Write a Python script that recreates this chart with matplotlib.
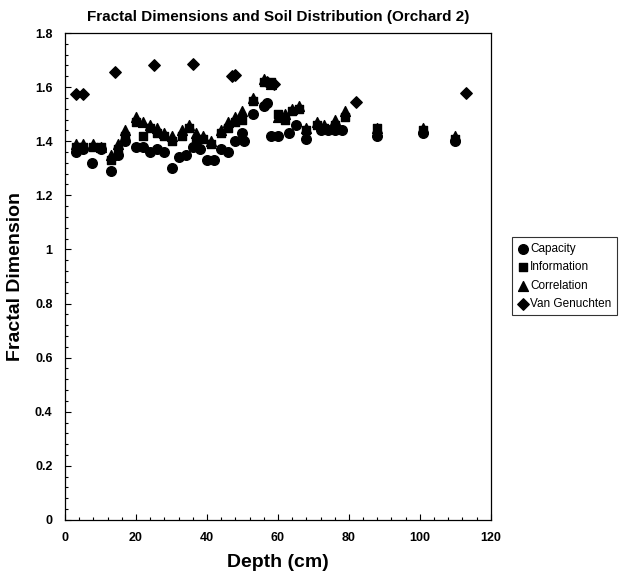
import matplotlib.pyplot as plt
from matplotlib.ticker import MultipleLocator

plt.rcParams['font.family'] = ['Liberation Sans', 'DejaVu Sans']

# data
cap_depth = [3, 5, 7.5, 10, 13, 15, 17, 20, 22, 24, 26, 28, 30, 32, 34, 36, 38, 40, 42, 44,
             46, 48, 50, 50.5, 53, 56, 57, 58, 60, 63, 65, 68, 72, 74, 76, 78, 88, 101, 110]
cap_val = [1.36, 1.37, 1.32, 1.37, 1.29, 1.35, 1.40, 1.38, 1.38, 1.36, 1.37, 1.36, 1.30, 1.34,
           1.35, 1.38, 1.37, 1.33, 1.33, 1.37, 1.36, 1.40, 1.43, 1.40, 1.50, 1.53, 1.54, 1.42,
           1.42, 1.43, 1.46, 1.41, 1.44, 1.44, 1.44, 1.44, 1.42, 1.43, 1.40]

inf_depth = [3, 5, 8, 10, 13, 15, 17, 20, 22, 24, 26, 28, 30, 33, 35, 37, 39, 41, 44, 46,
             48, 50, 53, 56, 58, 60, 62, 64, 66, 68, 71, 73, 76, 79, 88, 101, 110]
inf_val = [1.38, 1.38, 1.38, 1.38, 1.33, 1.37, 1.42, 1.47, 1.42, 1.45, 1.43, 1.42, 1.40, 1.42,
           1.45, 1.40, 1.41, 1.39, 1.43, 1.45, 1.47, 1.48, 1.55, 1.62, 1.62, 1.50, 1.48, 1.51,
           1.52, 1.44, 1.46, 1.45, 1.46, 1.49, 1.45, 1.44, 1.41]

cor_depth = inf_depth
cor_val = [1.39, 1.39, 1.39, 1.38, 1.35, 1.39, 1.44, 1.49, 1.47, 1.46, 1.45, 1.43, 1.42, 1.44,
           1.46, 1.43, 1.42, 1.40, 1.44, 1.47, 1.49, 1.51, 1.56, 1.63, 1.61, 1.49, 1.50, 1.52,
           1.53, 1.45, 1.47, 1.46, 1.48, 1.51, 1.45, 1.45, 1.42]

vg_depth = [3, 5, 14, 25, 36, 47, 48, 57, 59, 82, 113]
vg_val = [1.575, 1.575, 1.655, 1.68, 1.685, 1.64, 1.645, 1.62, 1.61, 1.545, 1.58]

fig = plt.figure(figsize=(6.26, 5.79), dpi=100)
ax = fig.add_axes([0.104, 0.102, 0.68, 0.841])

ax.scatter(cap_depth, cap_val, marker='o', s=48, color='black', label='Capacity', zorder=3)
ax.scatter(inf_depth, inf_val, marker='s', s=40, color='black', label='Information', zorder=3)
ax.scatter(cor_depth, cor_val, marker='^', s=50, color='black', label='Correlation', zorder=3)
ax.scatter(vg_depth, vg_val, marker='D', s=34, color='black', label='Van Genuchten', zorder=3)

ax.set_xlim(0, 120)
ax.set_ylim(0, 1.8)
ax.xaxis.set_major_locator(MultipleLocator(20))
ax.xaxis.set_minor_locator(MultipleLocator(4))
ax.yaxis.set_major_locator(MultipleLocator(0.2))
ax.yaxis.set_minor_locator(MultipleLocator(0.04))
ax.set_yticks([0, 0.2, 0.4, 0.6, 0.8, 1.0, 1.2, 1.4, 1.6, 1.8])
ax.set_yticklabels(['0', '0.2', '0.4', '0.6', '0.8', '1', '1.2', '1.4', '1.6', '1.8'])
ax.tick_params(which='both', direction='in', labelsize=9, width=0.8)
ax.tick_params(which='major', length=4, pad=9)
ax.tick_params(which='minor', length=2)
ax.tick_params(top=False, right=False, which='both')
for lab in ax.get_xticklabels() + ax.get_yticklabels():
    lab.set_fontweight('bold')
for sp in ax.spines.values():
    sp.set_linewidth(0.9)

ax.set_xlabel('Depth (cm)', fontsize=14, fontweight='bold', labelpad=7)
ax.set_ylabel('Fractal Dimension', fontsize=14, fontweight='bold', labelpad=8)
ax.set_title('Fractal Dimensions and Soil Distribution (Orchard 2)', fontsize=11,
             fontweight='bold', pad=9)

leg = fig.legend(loc='upper left', bbox_to_anchor=(0.818, 0.59), fontsize=8.5,
                 frameon=True, fancybox=False, edgecolor='black', handletextpad=0.1,
                 handlelength=1.0, borderpad=0.45, labelspacing=0.55, borderaxespad=0)
leg.get_frame().set_linewidth(0.8)

plt.savefig('out.png', dpi=100)
